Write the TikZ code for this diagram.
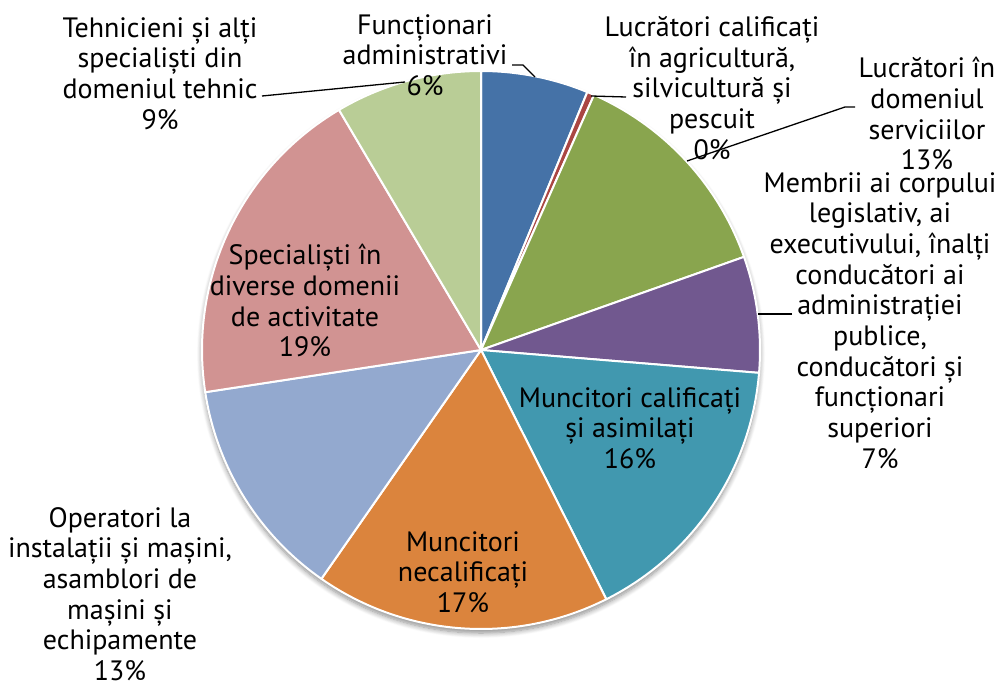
\documentclass[tikz,border=0pt]{standalone}
\usepackage{fontspec}
\setmainfont{PT Sans}
\usetikzlibrary{calc,shadows.blur}
\definecolor{cblue}{HTML}{4572A7}
\definecolor{cred}{HTML}{AA4643}
\definecolor{cgreen}{HTML}{89A54E}
\definecolor{cpurple}{HTML}{71588F}
\definecolor{cteal}{HTML}{4198AF}
\definecolor{corange}{HTML}{DB843D}
\definecolor{clblue}{HTML}{93A9CF}
\definecolor{cpink}{HTML}{D19392}
\definecolor{clgreen}{HTML}{B9CD96}
\begin{document}
\begin{tikzpicture}[x=1pt,y=-1pt,
  lbl/.style={align=center, anchor=north, inner sep=0pt, font=\fontsize{28}{30.7}\selectfont},
  lead/.style={draw=black, line width=1.3pt},
  slice/.style={draw=white, line width=2pt, line join=round}]
\useasboundingbox (0,0) rectangle (1000,682);
\coordinate (c) at (481,350);
\fill[white, blur shadow={shadow xshift=0pt, shadow yshift=-4pt, shadow opacity=45, shadow blur steps=8, shadow blur radius=5pt}] (c) circle[radius=279pt];
\foreach \a/\b/\col in {90/67.6/cblue, 67.6/66.1/cred, 66.1/19.5/cgreen, 19.5/-4.7/cpurple, -4.7/-63.3/cteal, -63.3/-124.9/corange, -124.9/-171.3/clblue, -171.3/-239.4/cpink, -239.4/-270/clgreen}
  \filldraw[slice, fill=\col] (c) -- ($(c)+(\a:279pt)$) arc[start angle=\a, end angle=\b, radius=279pt] -- cycle;
% labels
\node[lbl] (l1) at (425,14) {Funcționari\\administrativi\\6\%};
\node[lbl] (l2) at (712,16) {Lucrători calificați\\în agricultură,\\silvicultură și\\pescuit\\0\%};
\node[lbl] (l3) at (927,57) {Lucrători în\\domeniul\\serviciilor\\13\%};
\node[lbl] (l4) at (880,172) {Membrii ai corpului\\legislativ, ai\\executivului, înalți\\conducători ai\\administrației\\publice,\\conducători și\\funcționari\\superiori\\7\%};
\node[lbl] (l5) at (630,387) {Muncitori calificați\\și asimilați\\16\%};
\node[lbl] (l6) at (463,531) {Muncitori\\necalificați\\17\%};
\node[lbl] (l7) at (120,507) {Operatori la\\instalații și mașini,\\asamblori de\\mașini și\\echipamente\\13\%};
\node[lbl] (l8) at (305,244) {Specialiști în\\diverse domenii\\de activitate\\19\%};
\node[lbl] (l9) at (160,17) {Tehnicieni și alți\\specialiști din\\domeniul tehnic\\9\%};
% leader lines
\coordinate (a1) at (512,65); \coordinate (b1) at (523,65); \coordinate (p1) at (535,77);
\draw[lead] (a1) -- (b1) -- (p1);
\coordinate (a2) at (626,97); \coordinate (p2) at (591,96);
\draw[lead] (a2) -- (p2);
\coordinate (a3) at (855,107); \coordinate (b3) at (845,107); \coordinate (p3) at (687,161);
\draw[lead] (a3) -- (b3) -- (p3);
\coordinate (a4) at (792,314); \coordinate (p4) at (758,314);
\draw[lead] (a4) -- (p4);
\coordinate (a9) at (262,96); \coordinate (p9) at (405,82);
\draw[lead] (a9) -- (p9);
\end{tikzpicture}
\end{document}
